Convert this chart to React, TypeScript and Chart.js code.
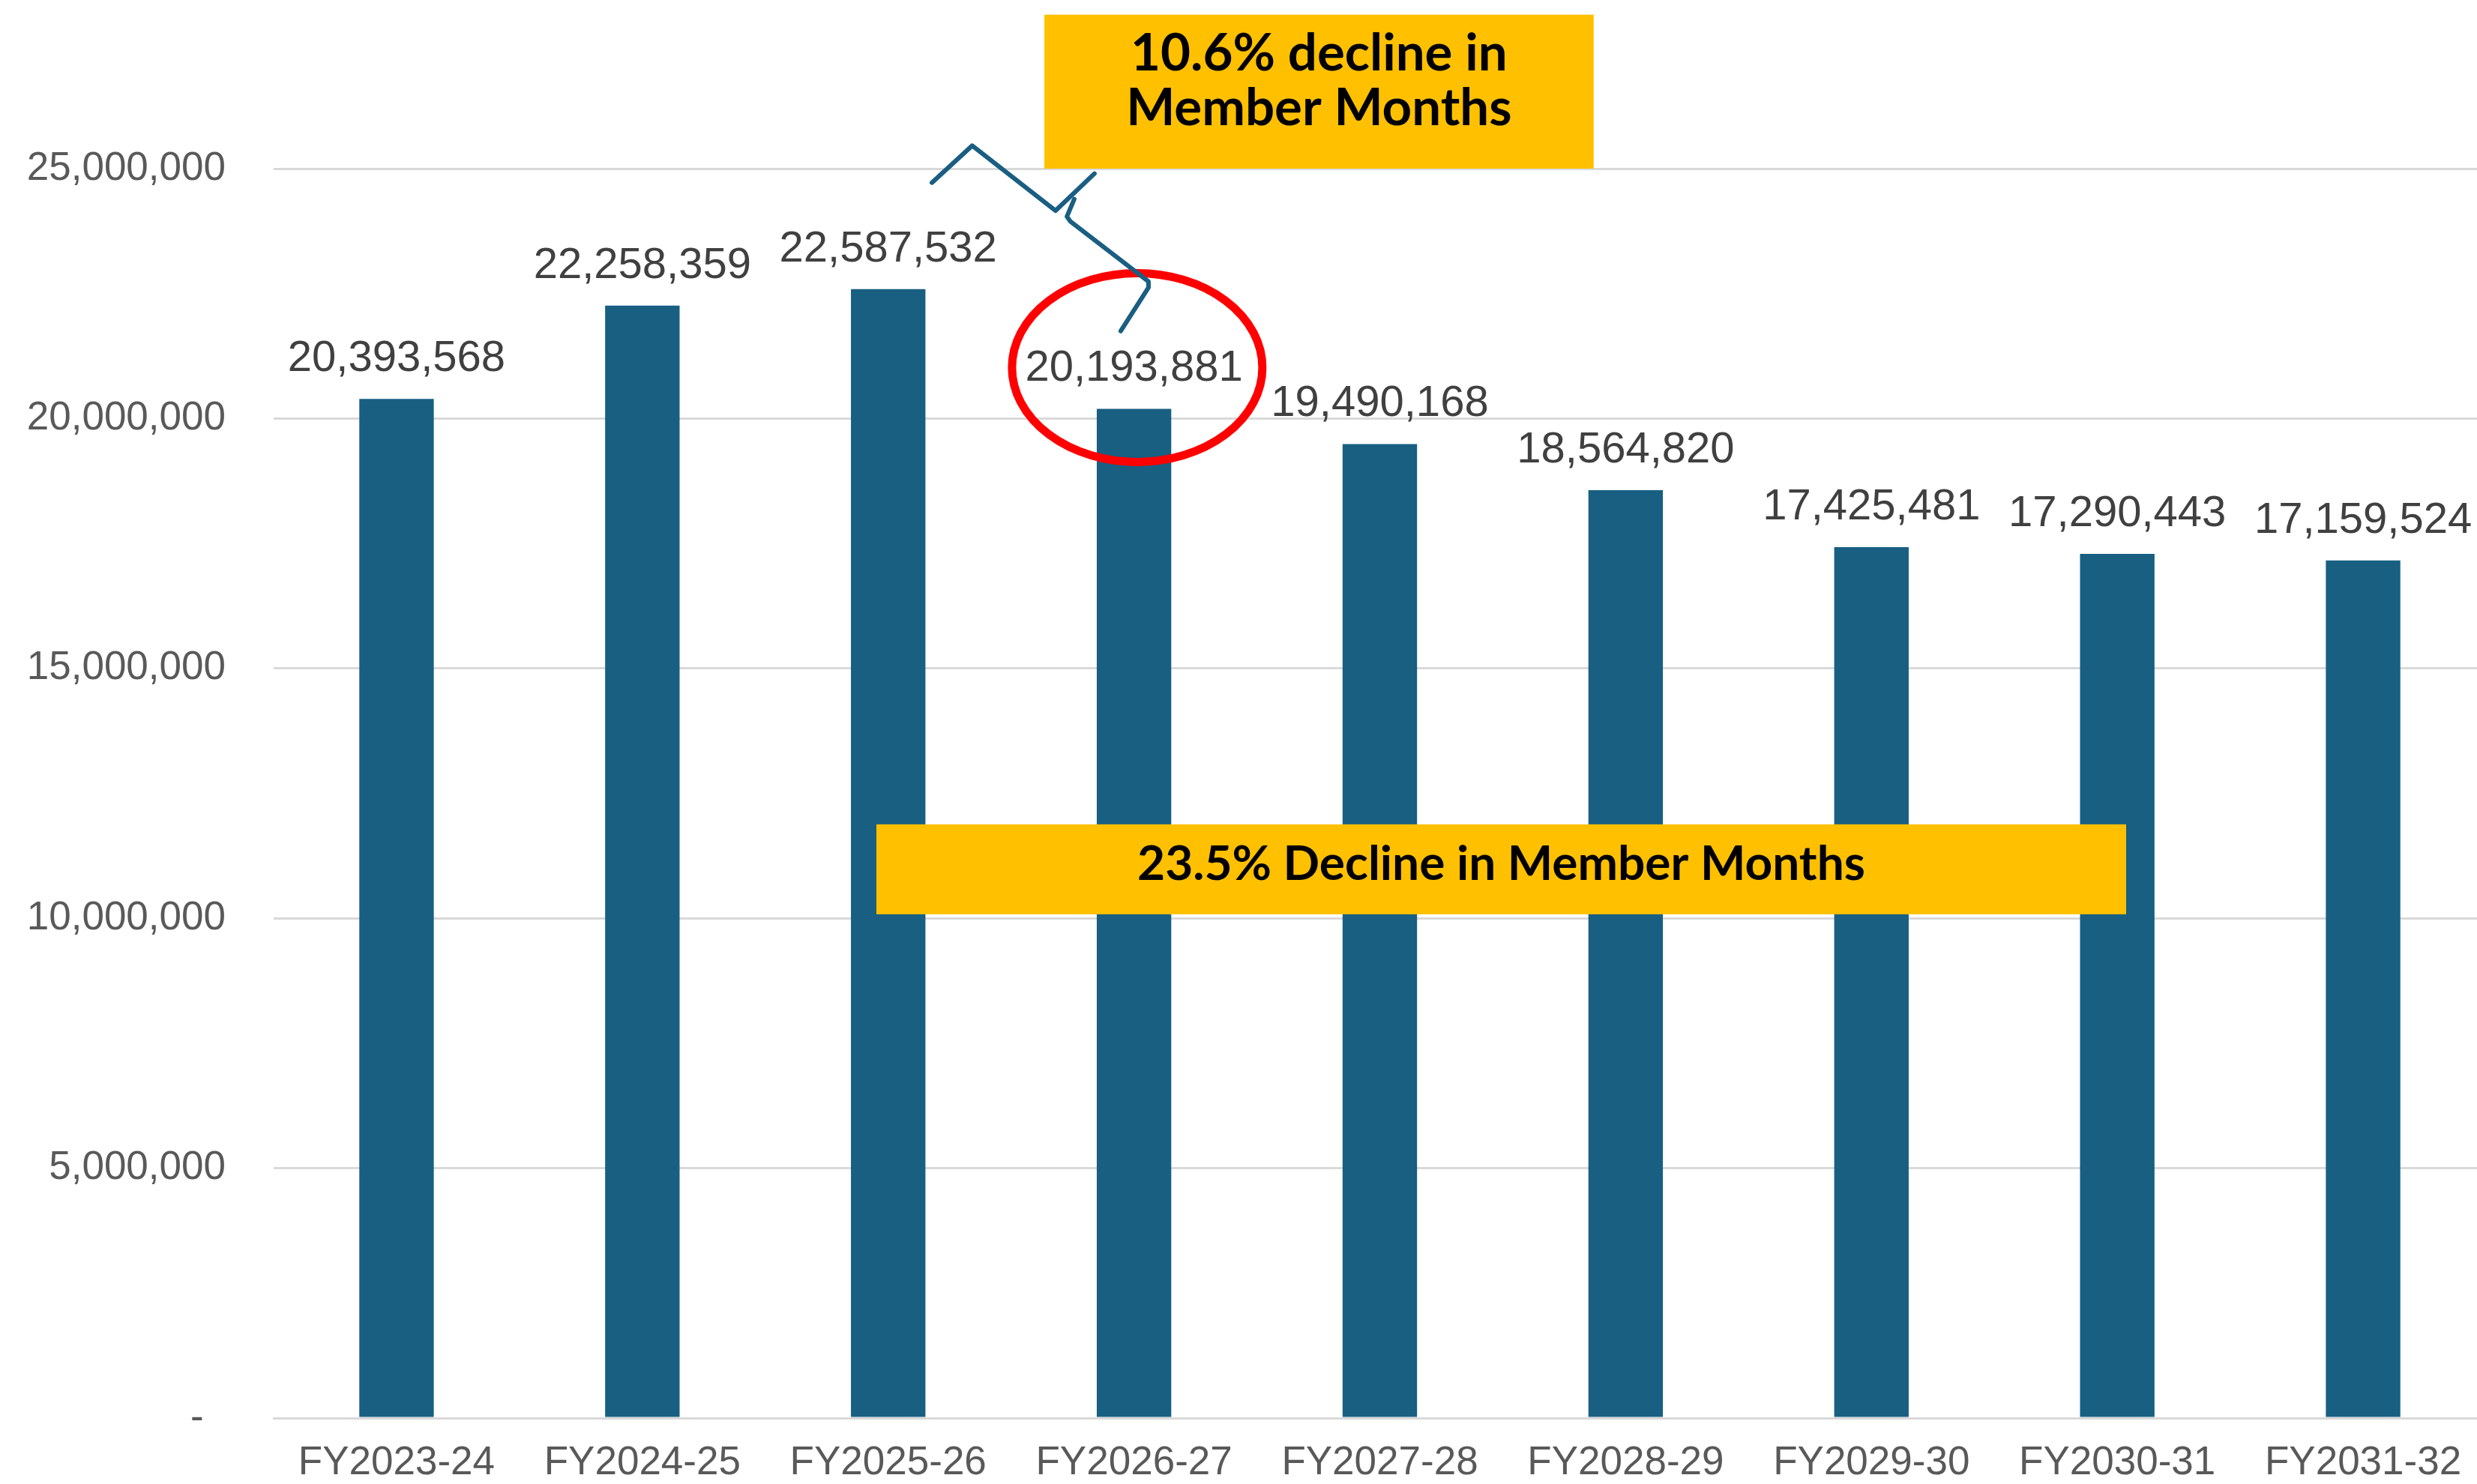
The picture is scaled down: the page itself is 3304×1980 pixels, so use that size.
import React, { useEffect, useRef } from "react";
import { Chart, registerables } from "chart.js";

Chart.register(...registerables);

const categories = [
  "FY2023-24",
  "FY2024-25",
  "FY2025-26",
  "FY2026-27",
  "FY2027-28",
  "FY2028-29",
  "FY2029-30",
  "FY2030-31",
  "FY2031-32",
];
const memberMonths = [
  20393568, 22258359, 22587532, 20193881, 19490168, 18564820, 17425481, 17290443, 17159524,
];
const yMax = 25000000;
const yStep = 5000000;
const topNoteLines = ["10.6% decline in", "Member Months"];
const midNoteText = "23.5% Decline in Member Months";
const highlightIndex = 3;

const FONT = "'Liberation Sans', Arial, sans-serif";
const NOTE_FONT = "Lato, 'Open Sans', sans-serif";

const annotationPlugin = {
  id: "annotations",
  afterDatasetsDraw(chart: any) {
    const ctx = chart.ctx;
    const meta = chart.getDatasetMeta(0);
    ctx.save();
    ctx.font = `58px ${FONT}`;
    ctx.fillStyle = "#404040";
    ctx.textAlign = "center";
    ctx.textBaseline = "middle";
    meta.data.forEach((bar: any, i: number) => {
      ctx.fillText(memberMonths[i].toLocaleString("en-US"), bar.x, bar.y - 53);
    });
    ctx.restore();
  },
  afterDraw(chart: any) {
    const ctx = chart.ctx;
    const xs = chart.scales.x;
    const ys = chart.scales.y;
    const px = (v: number) => xs.getPixelForValue(v);
    const py = (v: number) => ys.getPixelForValue(v);

    ctx.save();
    // middle note box
    const mL = px(1.952), mR = px(7.036), mT = py(11.88e6), mB = py(10.08e6);
    ctx.fillStyle = "#FFC000";
    ctx.fillRect(mL, mT, mR - mL, mB - mT);
    ctx.fillStyle = "#000000";
    ctx.font = `bold 64px ${NOTE_FONT}`;
    ctx.textAlign = "center";
    ctx.textBaseline = "middle";
    ctx.fillText(midNoteText, (mL + mR) / 2, (mT + mB) / 2 - 6);

    // top note box
    const tL = px(2.635), tR = px(4.87), tT = py(28.08e6), tB = py(25.0e6);
    ctx.fillStyle = "#FFC000";
    ctx.fillRect(tL, tT, tR - tL, tB - tT);
    ctx.fillStyle = "#000000";
    ctx.font = `bold 69px ${NOTE_FONT}`;
    const cy = (tT + tB) / 2;
    ctx.fillText(topNoteLines[0], (tL + tR) / 2, cy - 51);
    ctx.fillText(topNoteLines[1], (tL + tR) / 2, cy + 22);

    // red ellipse around highlighted label
    ctx.strokeStyle = "#FF0000";
    ctx.lineWidth = 11;
    ctx.beginPath();
    ctx.ellipse(px(highlightIndex + 0.013), py(21.02e6), 167, 126, 0, 0, Math.PI * 2);
    ctx.stroke();

    // brace connector
    ctx.strokeStyle = "#1A5E82";
    ctx.lineWidth = 6;
    ctx.lineJoin = "round";
    ctx.lineCap = "round";
    ctx.beginPath();
    const armA: [number, number][] = [
      [2.178, 24.72], [2.342, 25.46], [2.681, 24.16], [2.839, 24.9],
    ];
    armA.forEach(([a, b], i) => (i === 0 ? ctx.moveTo(px(a), py(b * 1e6)) : ctx.lineTo(px(a), py(b * 1e6))));
    ctx.stroke();
    ctx.beginPath();
    const armB: [number, number][] = [
      [2.757, 24.39], [2.727, 24.04], [2.742, 23.94], [3.059, 22.74], [3.059, 22.62], [2.946, 21.75],
    ];
    armB.forEach(([a, b], i) => (i === 0 ? ctx.moveTo(px(a), py(b * 1e6)) : ctx.lineTo(px(a), py(b * 1e6))));
    ctx.stroke();
    ctx.restore();
  },
};

export default function App() {
  const ref = useRef<HTMLCanvasElement | null>(null);
  useEffect(() => {
    if (!ref.current) return;
    const chart = new Chart(ref.current, {
      type: "bar",
      data: {
        labels: categories,
        datasets: [
          {
            data: memberMonths,
            backgroundColor: "#185F82",
            borderWidth: 0,
            barPercentage: 0.303,
            categoryPercentage: 1,
          },
        ],
      },
      options: {
        animation: false,
        responsive: true,
        maintainAspectRatio: false,
        devicePixelRatio: 1,
        layout: { padding: { top: 225, right: 0, bottom: 0, left: 0 } },
        plugins: {
          legend: { display: false },
          tooltip: { enabled: false },
          title: { display: false },
        },
        scales: {
          x: {
            grid: { display: false, drawTicks: false },
            border: { display: true, color: "#D9D9D9", width: 3 },
            ticks: {
              color: "#595959",
              font: { family: FONT, size: 53 },
              padding: 29,
              maxRotation: 0,
              autoSkip: false,
            },
            afterFit: (s: any) => {
              s.height = 88;
            },
          },
          y: {
            min: 0,
            max: yMax,
            grid: {
              color: "#D9D9D9",
              lineWidth: 3,
              drawTicks: true,
              tickLength: 64,
              tickColor: "rgba(0,0,0,0)",
            },
            border: { display: false },
            ticks: {
              stepSize: yStep,
              color: "#595959",
              font: { family: FONT, size: 53 },
              padding: 0,
              callback: (v: any) => (Number(v) === 0 ? "-  " : Number(v).toLocaleString("en-US")),
            },
            afterFit: (s: any) => {
              s.width = 365;
            },
          },
        },
      },
      plugins: [annotationPlugin],
    });
    return () => chart.destroy();
  }, []);
  return (
    <div style={{ position: "fixed", left: 0, top: 0, width: 3316, height: 1980, background: "#fff" }}>
      <canvas ref={ref} />
    </div>
  );
}
